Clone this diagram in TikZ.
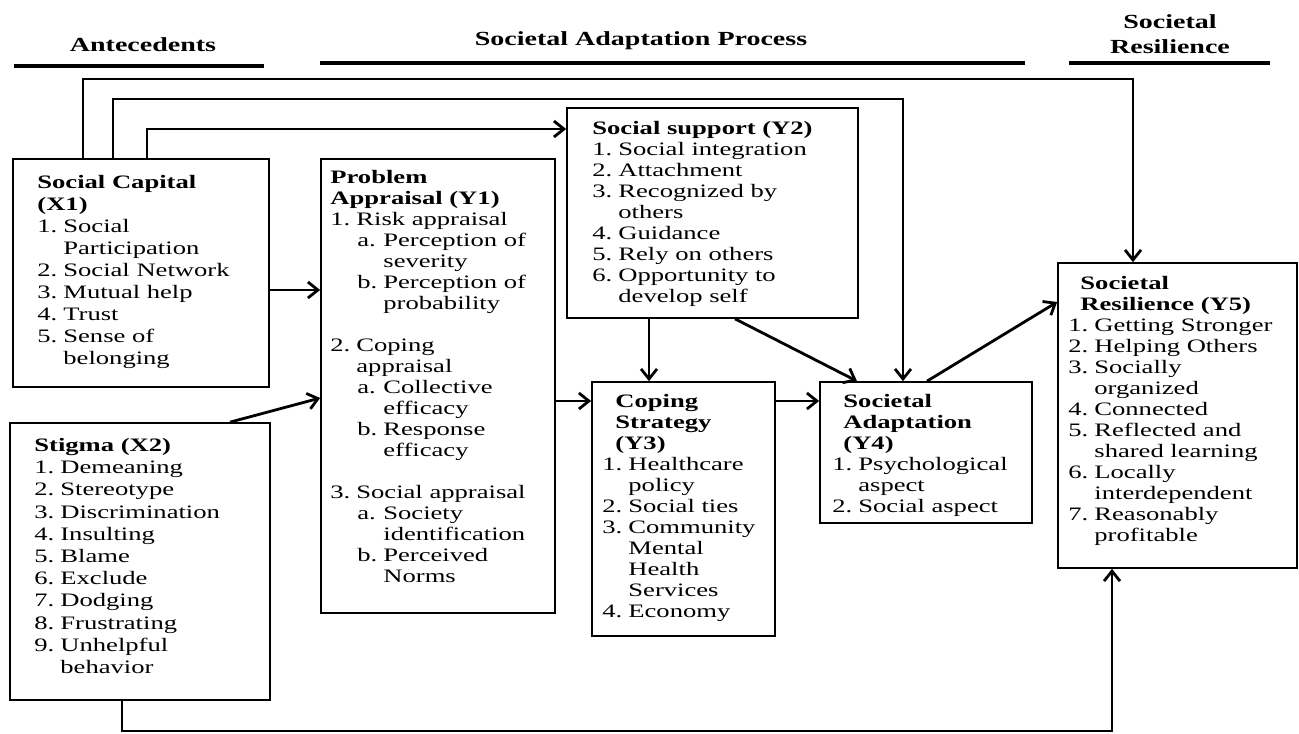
\documentclass[tikz,border=0pt]{standalone}
\usepackage{fontspec}
\setmainfont{Liberation Serif}[FakeStretch=1.4]
\usetikzlibrary{arrows.meta,fit}

% numbered item, continuation indent, lettered sub-item
\newcommand\nm[1]{\makebox[13pt][l]{#1}}
\newcommand\ind{\hspace*{13pt}}
\newcommand\sub[1]{\hspace*{13.5pt}\makebox[13pt][l]{#1}}
\newcommand\subind{\hspace*{26.5pt}}

\begin{document}
\begin{tikzpicture}[x=0.5pt,y=-0.5pt,
  box/.style={draw, line width=0.85pt, inner sep=0pt},
  txt/.style={anchor=north west, inner sep=0pt, align=left, font=\fontsize{9.5}{10.5}\selectfont},
  conn/.style={line width=1.4pt, -{Straight Barb[length=5pt,width=8pt]}},
  head/.style={font=\fontsize{10}{12.5}\selectfont\bfseries, align=center, inner sep=0pt},
  rulebar/.style={line width=2pt}]
\useasboundingbox (0,0) rectangle (1299,733);

% column headings
\node[head] (hA) at (143,45) {Antecedents};
\node[head] (hP) at (641,41) {Societal Adaptation Process};
\node[head] (hR) at (1170,34) {Societal\\Resilience};
\draw[rulebar] (14,66) -- (264,66);
\draw[rulebar] (320,63) -- (1025,63);
\draw[rulebar] (1069,63) -- (1270,63);

% boxes
\node[box, fit={(13,159) (269,387)}] (X1) {};
\node[box, fit={(10,423) (270,700)}] (X2) {};
\node[box, fit={(321,159) (555,613)}] (Y1) {};
\node[box, fit={(567,108) (858,318)}] (Y2) {};
\node[box, fit={(592,382) (775,636)}] (Y3) {};
\node[box, fit={(820,382) (1032,523)}] (Y4) {};
\node[box, fit={(1058,263) (1297,568)}] (Y5) {};

% box contents
\node[txt, font=\fontsize{9.5}{11}\selectfont] (X1t) at (37,175) {%
\textbf{Social Capital}\\
\textbf{(X1)}\\
\nm{1.}Social\\
\ind Participation\\
\nm{2.}Social Network\\
\nm{3.}Mutual help\\
\nm{4.}Trust\\
\nm{5.}Sense of\\
\ind belonging};

\node[txt, font=\fontsize{9.5}{11.1}\selectfont] (X2t) at (34,438) {%
\textbf{Stigma (X2)}\\
\nm{1.}Demeaning\\
\nm{2.}Stereotype\\
\nm{3.}Discrimination\\
\nm{4.}Insulting\\
\nm{5.}Blame\\
\nm{6.}Exclude\\
\nm{7.}Dodging\\
\nm{8.}Frustrating\\
\nm{9.}Unhelpful\\
\ind behavior};

\node[txt] (Y1t) at (330,170) {%
\textbf{Problem}\\
\textbf{Appraisal (Y1)}\\
\nm{1.}Risk appraisal\\
\sub{a.}Perception of\\
\subind severity\\
\sub{b.}Perception of\\
\subind probability\\[10.5pt]
\nm{2.}Coping\\
\ind appraisal\\
\sub{a.}Collective\\
\subind efficacy\\
\sub{b.}Response\\
\subind efficacy\\[10.5pt]
\nm{3.}Social appraisal\\
\sub{a.}Society\\
\subind identification\\
\sub{b.}Perceived\\
\subind Norms};

\node[txt] (Y2t) at (592,121) {%
\textbf{Social support (Y2)}\\
\nm{1.}Social integration\\
\nm{2.}Attachment\\
\nm{3.}Recognized by\\
\ind others\\
\nm{4.}Guidance\\
\nm{5.}Rely on others\\
\nm{6.}Opportunity to\\
\ind develop self};

\node[txt] (Y3t) at (602,394) {%
\hspace*{6.5pt}\textbf{Coping}\\
\hspace*{6.5pt}\textbf{Strategy}\\
\hspace*{6.5pt}\textbf{(Y3)}\\
\nm{1.}Healthcare\\
\ind policy\\
\nm{2.}Social ties\\
\nm{3.}Community\\
\ind Mental\\
\ind Health\\
\ind Services\\
\nm{4.}Economy};

\node[txt] (Y4t) at (832,394) {%
\hspace*{5.5pt}\textbf{Societal}\\
\hspace*{5.5pt}\textbf{Adaptation}\\
\hspace*{5.5pt}\textbf{(Y4)}\\
\nm{1.}Psychological\\
\ind aspect\\
\nm{2.}Social aspect};

\node[txt] (Y5t) at (1068,276) {%
\hspace*{6pt}\textbf{Societal}\\
\hspace*{6pt}\textbf{Resilience (Y5)}\\
\nm{1.}Getting Stronger\\
\nm{2.}Helping Others\\
\nm{3.}Socially\\
\ind organized\\
\nm{4.}Connected\\
\nm{5.}Reflected and\\
\ind shared learning\\
\nm{6.}Locally\\
\ind interdependent\\
\nm{7.}Reasonably\\
\ind profitable};

% bend points of the long connectors
\coordinate (k1a) at (83,79);   \coordinate (k1b) at (1133,79);
\coordinate (k2a) at (113,99);  \coordinate (k2b) at (903,99);
\coordinate (k3a) at (147,129);
\coordinate (k4a) at (122,731); \coordinate (k4b) at (1112,731);
% levels and columns of the short connectors
\coordinate (h1) at (0,290);
\coordinate (h2) at (0,401);
\coordinate (h3) at (0,398);
\coordinate (h4) at (0,302);
\coordinate (v1) at (230,0);
\coordinate (v2) at (649,0);
\coordinate (v3) at (735,0);
\coordinate (v4) at (857,0);
\coordinate (v5) at (927,0);

% connectors
\draw[conn] (X1.north -| k1a) -- (k1a) -- (k1b) -- (Y5.north -| k1b);
\draw[conn] (X1.north -| k2a) -- (k2a) -- (k2b) -- (Y4.north -| k2b);
\draw[conn] (X1.north -| k3a) -- (k3a) -- (Y2.west |- k3a);
\draw[conn] (X1.east |- h1) -- (Y1.west |- h1);
\draw[conn] (X2.north -| v1) -- (Y1.west |- h3);
\draw[conn] (Y1.east |- h2) -- (Y3.west |- h2);
\draw[conn] (Y2.south -| v2) -- (Y3.north -| v2);
\draw[conn] (Y2.south -| v3) -- (Y4.north -| v4);
\draw[conn] (Y3.east |- h2) -- (Y4.west |- h2);
\draw[conn] (Y4.north -| v5) -- (Y5.west |- h4);
\draw[conn] (X2.south -| k4a) -- (k4a) -- (k4b) -- (Y5.south -| k4b);
\end{tikzpicture}
\end{document}
